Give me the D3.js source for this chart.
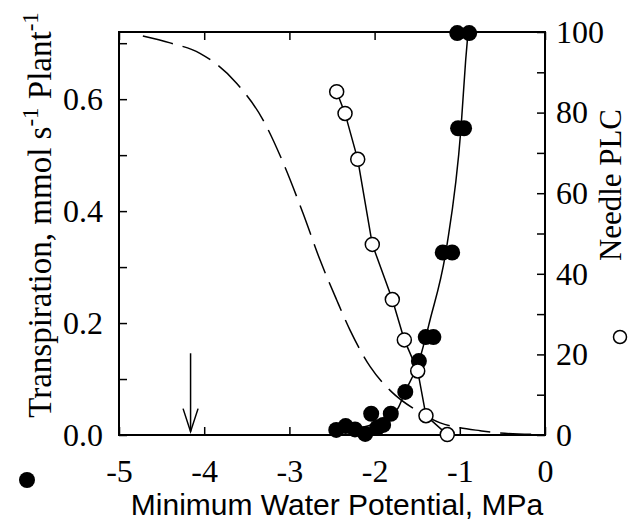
<!DOCTYPE html>
<html>
<head>
<meta charset="utf-8">
<script src="https://cdn.jsdelivr.net/npm/d3@7"></script>
<style>
  body { margin: 0; background: #fff; }
  svg { display: block; }
  .tick text { font-family: "Liberation Serif", "Times New Roman", serif; font-size: 32px; fill: #000; }
  .axis path { display: none; }
  .axis line { stroke: #000; stroke-width: 1.5; }
</style>
</head>
<body>
<svg class="chart" width="640" height="521"></svg>
<script>
// x axis: minimum water potential (MPa)
const xTicks = [-5, -4, -3, -2, -1, 0];
const leftTicks = [0, 0.1, 0.2, 0.3, 0.4, 0.5, 0.6, 0.7];
const leftTickLabels = ["0.0", "", "0.2", "", "0.4", "", "0.6", ""];
const rightTicks = [0, 10, 20, 30, 40, 50, 60, 70, 80, 90, 100];
const rightTickLabels = ["0", "", "20", "", "40", "", "60", "", "80", "", "100"];

// filled circles: transpiration (left axis)
const transPotential = [-2.45, -2.34, -2.23, -2.11, -2.04, -1.97, -1.90, -1.81, -1.64, -1.48, -1.40, -1.31, -1.20, -1.09, -1.02, -0.95, -1.03, -0.89];
const transRate      = [0.009, 0.016, 0.010, 0.002, 0.038, 0.013, 0.018, 0.038, 0.077, 0.132, 0.175, 0.175, 0.326, 0.326, 0.548, 0.548, 0.718, 0.718];

// fitted transpiration line (solid)
const fitPotential = [-2.45, -2.2, -2.0, -1.82, -1.725, -1.643, -1.479, -1.35, -1.154, -0.986, -0.931, -0.904];
const fitRate      = [0.006, 0.012, 0.020, 0.034, 0.048, 0.077, 0.132, 0.205, 0.336, 0.548, 0.670, 0.718];

// open circles: needle PLC (right axis)
const plcPotential = [-2.445, -2.347, -2.198, -2.027, -1.792, -1.651, -1.494, -1.397, -1.147];
const plcValue     = [85.2, 79.8, 68.4, 47.3, 33.6, 23.6, 15.9, 4.8, 0.1];

// dashed vulnerability curve (right axis)
const curvePotential = [-4.72, -4.4, -4.05, -3.62, -3.31, -3.07, -2.84, -2.64, -2.445, -2.29, -2.05, -1.80, -1.50, -1.23, -1.00, -0.76, -0.53, -0.15];
const curvePLC       = [99.0, 97.3, 94.7, 87.3, 78.2, 67.4, 55.0, 43.4, 33.5, 26.1, 16.9, 10.7, 6.0, 3.0, 1.8, 1.07, 0.5, 0.15];

// arrow marker
const arrowPotential = -4.16;
const arrowRange = [0.146, 0.006];

const margin = { top: 32, right: 95, bottom: 86, left: 119 };
const width = 640 - margin.left - margin.right;
const height = 521 - margin.top - margin.bottom;

const serif = '"Liberation Serif", "Times New Roman", serif';

const root = d3.select("svg.chart");
const svg = root.append("g")
  .attr("transform", "translate(" + margin.left + "," + margin.top + ")");

const x = d3.scaleLinear().domain([-5, 0]).range([0, width]);
const yL = d3.scaleLinear().domain([0, 0.72]).range([height, 0]);
const yR = d3.scaleLinear().domain([0, 100]).range([height, 0]);

// axes, ticks pointing inward
svg.append("g").attr("class", "axis")
  .attr("transform", "translate(0," + height + ")")
  .call(d3.axisBottom(x).tickValues(xTicks).tickSize(-8).tickPadding(24)
    .tickFormat(d => d === 0 ? "0" : "-" + Math.abs(d)))
  .attr("font-family", serif).attr("font-size", 32);

svg.append("g").attr("class", "axis")
  .call(d3.axisTop(x).tickValues(xTicks).tickSize(-8).tickFormat(""));

svg.append("g").attr("class", "axis")
  .call(d3.axisLeft(yL).tickValues(leftTicks).tickSize(-8).tickPadding(16)
    .tickFormat((d, i) => leftTickLabels[i]))
  .attr("font-family", serif).attr("font-size", 32);

svg.append("g").attr("class", "axis")
  .attr("transform", "translate(" + width + ",0)")
  .call(d3.axisRight(yR).tickValues(rightTicks).tickSize(-8).tickPadding(11)
    .tickFormat((d, i) => rightTickLabels[i]))
  .attr("font-family", serif).attr("font-size", 32);

svg.append("rect")
  .attr("width", width).attr("height", height)
  .attr("fill", "none").attr("stroke", "#000").attr("stroke-width", 2);

// dashed curve
const curveData = curvePotential.map((p, i) => ({ p: p, v: curvePLC[i] }));
svg.append("path")
  .datum(curveData)
  .attr("fill", "none").attr("stroke", "#000").attr("stroke-width", 1.5)
  .attr("stroke-dasharray", "31,10")
  .attr("d", d3.line().x(d => x(d.p)).y(d => yR(d.v)).curve(d3.curveMonotoneX));

// fitted transpiration line
const fitData = fitPotential.map((p, i) => ({ p: p, v: fitRate[i] }));
svg.append("path")
  .datum(fitData)
  .attr("fill", "none").attr("stroke", "#000").attr("stroke-width", 1.5)
  .attr("d", d3.line().x(d => x(d.p)).y(d => yL(d.v)).curve(d3.curveMonotoneX));

// PLC line
const plcData = plcPotential.map((p, i) => ({ p: p, v: plcValue[i] }));
svg.append("path")
  .datum(plcData)
  .attr("fill", "none").attr("stroke", "#000").attr("stroke-width", 1.5)
  .attr("d", d3.line().x(d => x(d.p)).y(d => yR(d.v)));

// arrow
svg.append("line")
  .attr("x1", x(arrowPotential)).attr("x2", x(arrowPotential))
  .attr("y1", yL(arrowRange[0])).attr("y2", yL(arrowRange[1]))
  .attr("stroke", "#000").attr("stroke-width", 1.5);
svg.append("path")
  .attr("d", "M" + (x(arrowPotential) - 7.5) + "," + (yL(arrowRange[1]) - 23) +
    "L" + x(arrowPotential) + "," + yL(arrowRange[1]) +
    "L" + (x(arrowPotential) + 7.5) + "," + (yL(arrowRange[1]) - 23))
  .attr("fill", "none").attr("stroke", "#000").attr("stroke-width", 1.5);

// points
const transData = transPotential.map((p, i) => ({ p: p, v: transRate[i] }));
svg.selectAll("circle.trans")
  .data(transData)
  .enter().append("circle")
  .attr("class", "trans")
  .attr("cx", d => x(d.p)).attr("cy", d => yL(d.v))
  .attr("r", 8).attr("fill", "#000");

svg.selectAll("circle.plc")
  .data(plcData)
  .enter().append("circle")
  .attr("class", "plc")
  .attr("cx", d => x(d.p)).attr("cy", d => yR(d.v))
  .attr("r", 7).attr("fill", "#fff").attr("stroke", "#000").attr("stroke-width", 1.5);

// axis titles
const yTitle = root.append("text")
  .attr("transform", "translate(51,215) rotate(-90)")
  .attr("text-anchor", "middle")
  .attr("font-family", serif).attr("font-size", 33);
yTitle.append("tspan").text("Transpiration, mmol s");
yTitle.append("tspan").attr("dy", -13).attr("font-size", 23).text("-1");
yTitle.append("tspan").attr("dy", 13).text(" Plant");
yTitle.append("tspan").attr("dy", -13).attr("font-size", 23).text("-1");

root.append("text")
  .attr("transform", "translate(621,185) rotate(-90)")
  .attr("text-anchor", "middle")
  .attr("font-family", serif).attr("font-size", 31)
  .attr("textLength", 152).attr("lengthAdjust", "spacingAndGlyphs")
  .text("Needle PLC");

root.append("text")
  .attr("x", 337).attr("y", 515)
  .attr("text-anchor", "middle")
  .attr("font-family", '"Liberation Sans", Arial, sans-serif').attr("font-size", 30)
  .text("Minimum Water Potential, MPa");

// legend symbols
root.append("circle").attr("cx", 27).attr("cy", 480).attr("r", 8).attr("fill", "#000");
root.append("circle").attr("cx", 620).attr("cy", 337).attr("r", 6.5)
  .attr("fill", "#fff").attr("stroke", "#000").attr("stroke-width", 1.5);
</script>
</body>
</html>
